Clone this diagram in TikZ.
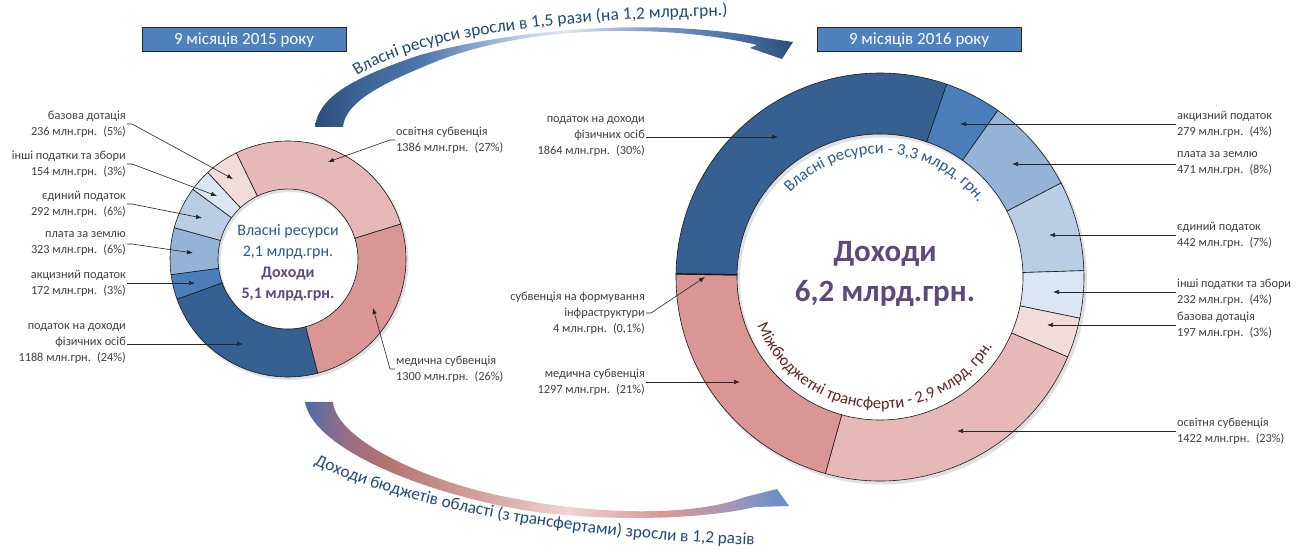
\documentclass[tikz,border=0pt]{standalone}
\usepackage{fontspec}
\setmainfont{Carlito}
\usetikzlibrary{arrows.meta,decorations.text}

\definecolor{taxBlue}{RGB}{54,96,146}
\definecolor{excBlue}{RGB}{74,126,187}
\definecolor{landBlue}{RGB}{149,179,215}
\definecolor{uniBlue}{RGB}{185,205,229}
\definecolor{othBlue}{RGB}{220,230,242}
\definecolor{basePink}{RGB}{242,220,219}
\definecolor{eduPink}{RGB}{230,185,184}
\definecolor{medPink}{RGB}{217,150,148}
\definecolor{yearBlue}{RGB}{79,129,189}
\definecolor{ownBlue}{RGB}{44,88,150}
\definecolor{arrowText}{RGB}{31,73,125}
\definecolor{incPurple}{RGB}{95,73,122}
\definecolor{trfRed}{RGB}{99,37,35}
\definecolor{lblGray}{RGB}{64,64,64}
% arrow fills
\definecolor{upA}{RGB}{44,78,124}
\definecolor{upB}{RGB}{62,100,150}
\definecolor{upC}{RGB}{190,208,232}
\definecolor{upD}{RGB}{222,232,245}
\definecolor{upE}{RGB}{125,158,202}
\definecolor{upF}{RGB}{78,118,170}
\definecolor{loA}{RGB}{74,108,168}
\definecolor{loB}{RGB}{150,110,135}
\definecolor{loC}{RGB}{178,114,110}
\definecolor{loD}{RGB}{225,180,180}
\definecolor{loE}{RGB}{240,212,212}
\definecolor{loF}{RGB}{220,150,150}
\definecolor{loG}{RGB}{165,150,185}
\definecolor{loH}{RGB}{98,140,205}

\pgfdeclarehorizontalshading{ownres}{100bp}{color(0bp)=(upA); color(25bp)=(upA);
  color(30bp)=(upB); color(36bp)=(upF); color(47bp)=(upC); color(51bp)=(upD);
  color(60bp)=(upE); color(68bp)=(upF); color(75bp)=(upA); color(100bp)=(upA)}
\pgfdeclarehorizontalshading{allinc}{100bp}{color(0bp)=(loA); color(25bp)=(loA);
  color(29bp)=(loB); color(33bp)=(loC); color(47bp)=(loD); color(52bp)=(loE);
  color(62bp)=(loF); color(69bp)=(loG); color(75bp)=(loH); color(100bp)=(loH)}

\tikzset{ringline/.style={draw=black!90, line width=0.6pt},
    ringshadow/.style={fill=black!12, even odd rule},
    yearbox/.style={draw=black!85, line width=1pt, fill=yearBlue, text=white,
      font=\fontsize{17}{17}\selectfont, minimum width=204pt, minimum height=24pt, inner sep=0pt},
    }

\newcommand{\ringpart}[6]{%
  \filldraw[ringline, fill=#6, shift={(#1)}] (#4:#2pt) arc[start angle=#4, end angle=#5, radius=#2pt]
    -- (#5:#3pt) arc[start angle=#5, end angle=#4, radius=#3pt] -- cycle;}

\begin{document}
\begin{tikzpicture}[x=1pt, y=1pt]
	\tikzset{lblL/.style={anchor=east, align=right, inner sep=1pt, text=lblGray, font=\fontsize{12.3}{16}\selectfont},
	  lblR/.style={lblL, anchor=west, align=left},
	  leader/.style={draw=black!85, line width=0.6pt, -{Latex[length=6pt,width=4.5pt]}}}
	\useasboundingbox (0,0) rectangle (1303,549);

	\node[yearbox] (y15) at (244,509) {9 місяців 2015 року};
	\node[yearbox] (y16) at (919,509) {9 місяців 2016 року};

	% growth arrows
	\shade[shading=ownres] (315,422) .. controls (318,449) and (345,469) .. (420,494)
	  .. controls (500,516) and (640,534) .. (766,511) -- (793,507) -- (782,490) -- (750,501) -- (757,504)
	  .. controls (680,523) and (540,527) .. (440,489) .. controls (390,469) and (345,449) .. (343,422) -- cycle;
	\shade[shading=allinc] (305,147) .. controls (312,104) and (410,59) .. (523,39)
	  .. controls (600,27) and (700,29) .. (755,42) -- (789,43) -- (777,60) -- (745,52)
	  .. controls (690,31) and (590,36) .. (523,49) .. controls (430,64) and (336,109) .. (333,147) -- cycle;
	\path[decorate, decoration={text along path,
	  text={|\fontsize{17.5}{17.5}\selectfont\color{arrowText}|Власні ресурси зросли в 1,5 рази (на 1,2 млрд.грн.)}}]
	  (357,473) .. controls (410,507) and (520,531) .. (765,534);
	\path[decorate, decoration={text along path,
	  text={|\fontsize{17.2}{17.2}\selectfont\color{arrowText}|Доходи бюджетів області (з трансфертами) зросли в 1,2 разів}}]
	  (314,85) .. controls (400,44) and (560,9) .. (780,3);

	% 2015
	\fill[ringshadow] (289.5,288) circle[radius=119pt] circle[radius=69pt];
	\ringpart{288,290}{118}{70}{116}{17.22}{eduPink}
	\ringpart{288,290}{118}{70}{17.22}{-75.44}{medPink}
	\ringpart{288,290}{118}{70}{-75.44}{-160.11}{taxBlue}
	\ringpart{288,290}{118}{70}{-160.11}{-172.37}{excBlue}
	\ringpart{288,290}{118}{70}{-172.37}{-195.39}{landBlue}
	\ringpart{288,290}{118}{70}{-195.39}{-216.2}{uniBlue}
	\ringpart{288,290}{118}{70}{-216.2}{-227.18}{othBlue}
	\ringpart{288,290}{118}{70}{-227.18}{-244}{basePink}
	\node[align=center, font=\fontsize{16}{21}\selectfont] (mid15) at (288,286)
	  {\color{ownBlue}Власні ресурси\\\color{ownBlue}2,1 млрд.грн.\\\color{incPurple}\bfseries Доходи\\\color{incPurple}\bfseries 5,1 млрд.грн.};

	\node[lblL] (base15) at (127,425) {базова дотація\\236 млн.грн.\enspace(5\%)};
	\node[lblL] (oth15) at (127,385) {інші податки та збори\\154 млн.грн.\enspace(3\%)};
	\node[lblL] (uni15) at (127,345) {єдиний податок\\292 млн.грн.\enspace(6\%)};
	\node[lblL] (land15) at (127,305) {плата за землю\\323 млн.грн.\enspace(6\%)};
	\node[lblL] (exc15) at (127,266) {акцизний податок\\172 млн.грн.\enspace(3\%)};
	\node[lblL] (tax15) at (127,205) {податок на доходи\\фізичних осіб\\1188 млн.грн.\enspace(24\%)};
	\node[lblR] (edu15) at (395,409) {освітня субвенція\\1386 млн.грн.\enspace(27\%)};
	\node[lblR] (med15) at (395,180) {медична субвенція\\1300 млн.грн.\enspace(26\%)};
	\coordinate (base15t) at (233,370);
	\coordinate (oth15t) at (217,353);
	\coordinate (uni15t) at (202,331);
	\coordinate (land15t) at (193,296);
	\coordinate (exc15t) at (195,266);
	\coordinate (tax15t) at (243,205);
	\coordinate (edu15t) at (328,387);
	\coordinate (med15t) at (373,241);
	\draw[leader] (base15.east) -- ++(5,0) -- (base15t);
	\draw[leader] (oth15.east) -- ++(5,0) -- (oth15t);
	\draw[leader] (uni15.east) -- ++(5,0) -- (uni15t);
	\draw[leader] (land15.east) -- ++(5,0) -- (land15t);
	\draw[leader] (exc15.east) -- (exc15t);
	\draw[leader] (tax15.east) -- (tax15t);
	\draw[leader] (edu15.west) -- ++(-5,0) -- (edu15t);
	\draw[leader] (med15.west) -- ++(-5,0) -- (med15t);

	% 2016
	\fill[ringshadow] (882,269.5) circle[radius=205pt] circle[radius=142pt];
	\ringpart{880,272}{204}{143}{179}{70.91}{taxBlue}
	\ringpart{880,272}{204}{143}{70.91}{54.73}{excBlue}
	\ringpart{880,272}{204}{143}{54.73}{27.42}{landBlue}
	\ringpart{880,272}{204}{143}{27.42}{1.79}{uniBlue}
	\ringpart{880,272}{204}{143}{1.79}{-11.66}{othBlue}
	\ringpart{880,272}{204}{143}{-11.66}{-23.08}{basePink}
	\ringpart{880,272}{204}{143}{-23.08}{-105.54}{eduPink}
	\ringpart{880,272}{204}{143}{-105.54}{-180.75}{medPink}
	\ringpart{880,272}{204}{143}{-180.75}{-181}{medPink}
	\node[align=center, text=incPurple, font=\fontsize{31}{40}\selectfont\bfseries] (mid16) at (885,275) {Доходи\\6,2 млрд.грн.};
	\path[decorate, decoration={text along path, text align=center,
	  text={|\fontsize{16.5}{16.5}\selectfont\color{ownBlue}|Власні ресурси - 3,3 млрд. грн.}}, shift={(880,272)}]
	  (157:123pt) arc[start angle=157, end angle=17, radius=123pt];
	\path[decorate, decoration={text along path, text align=center,
	  text={|\fontsize{16.5}{16.5}\selectfont\color{trfRed}|Міжбюджетні трансферти - 2,9 млрд. грн.}}, shift={(880,272)}]
	  (190:132pt) arc[start angle=190, end angle=340, radius=132pt];

	\node[lblL] (tax16) at (646,412) {податок на доходи\\фізичних осіб\\1864 млн.грн.\enspace(30\%)};
	\node[lblL] (infra16) at (646,236) {субвенція на формування\\інфраструктури\\4 млн.грн.\enspace(0,1\%)};
	\node[lblL] (med16) at (646,167) {медична субвенція\\1297 млн.грн.\enspace(21\%)};
	\node[lblR] (exc16) at (1176,425) {акцизний податок\\279 млн.грн.\enspace(4\%)};
	\node[lblR] (land16) at (1176,385) {плата за землю\\471 млн.грн.\enspace(8\%)};
	\node[lblR] (uni16) at (1176,314) {єдиний податок\\442 млн.грн.\enspace(7\%)};
	\node[lblR] (oth16) at (1176,257) {інші податки та збори\\232 млн.грн.\enspace(4\%)};
	\node[lblR] (base16) at (1176,224) {базова дотація\\197 млн.грн.\enspace(3\%)};
	\node[lblR] (edu16) at (1176,118) {освітня субвенція\\1422 млн.грн.\enspace(23\%)};
	\coordinate (tax16t) at (778,412);
	\coordinate (infra16t) at (705,272);
	\coordinate (med16t) at (740,167);
	\coordinate (exc16t) at (960,425);
	\coordinate (land16t) at (1012,385);
	\coordinate (uni16t) at (1049,314);
	\coordinate (oth16t) at (1053,257);
	\coordinate (base16t) at (1047,224);
	\coordinate (edu16t) at (957,118);
	\draw[leader] (tax16.east) -- (tax16t);
	\draw[leader] (infra16.east) -- ++(5,0) -- (infra16t);
	\draw[leader] (med16.east) -- (med16t);
	\draw[leader] (exc16.west) -- (exc16t);
	\draw[leader] (land16.west) -- (land16t);
	\draw[leader] (uni16.west) -- (uni16t);
	\draw[leader] (oth16.west) -- (oth16t);
	\draw[leader] (base16.west) -- (base16t);
	\draw[leader] (edu16.west) -- (edu16t);
\end{tikzpicture}
\end{document}
